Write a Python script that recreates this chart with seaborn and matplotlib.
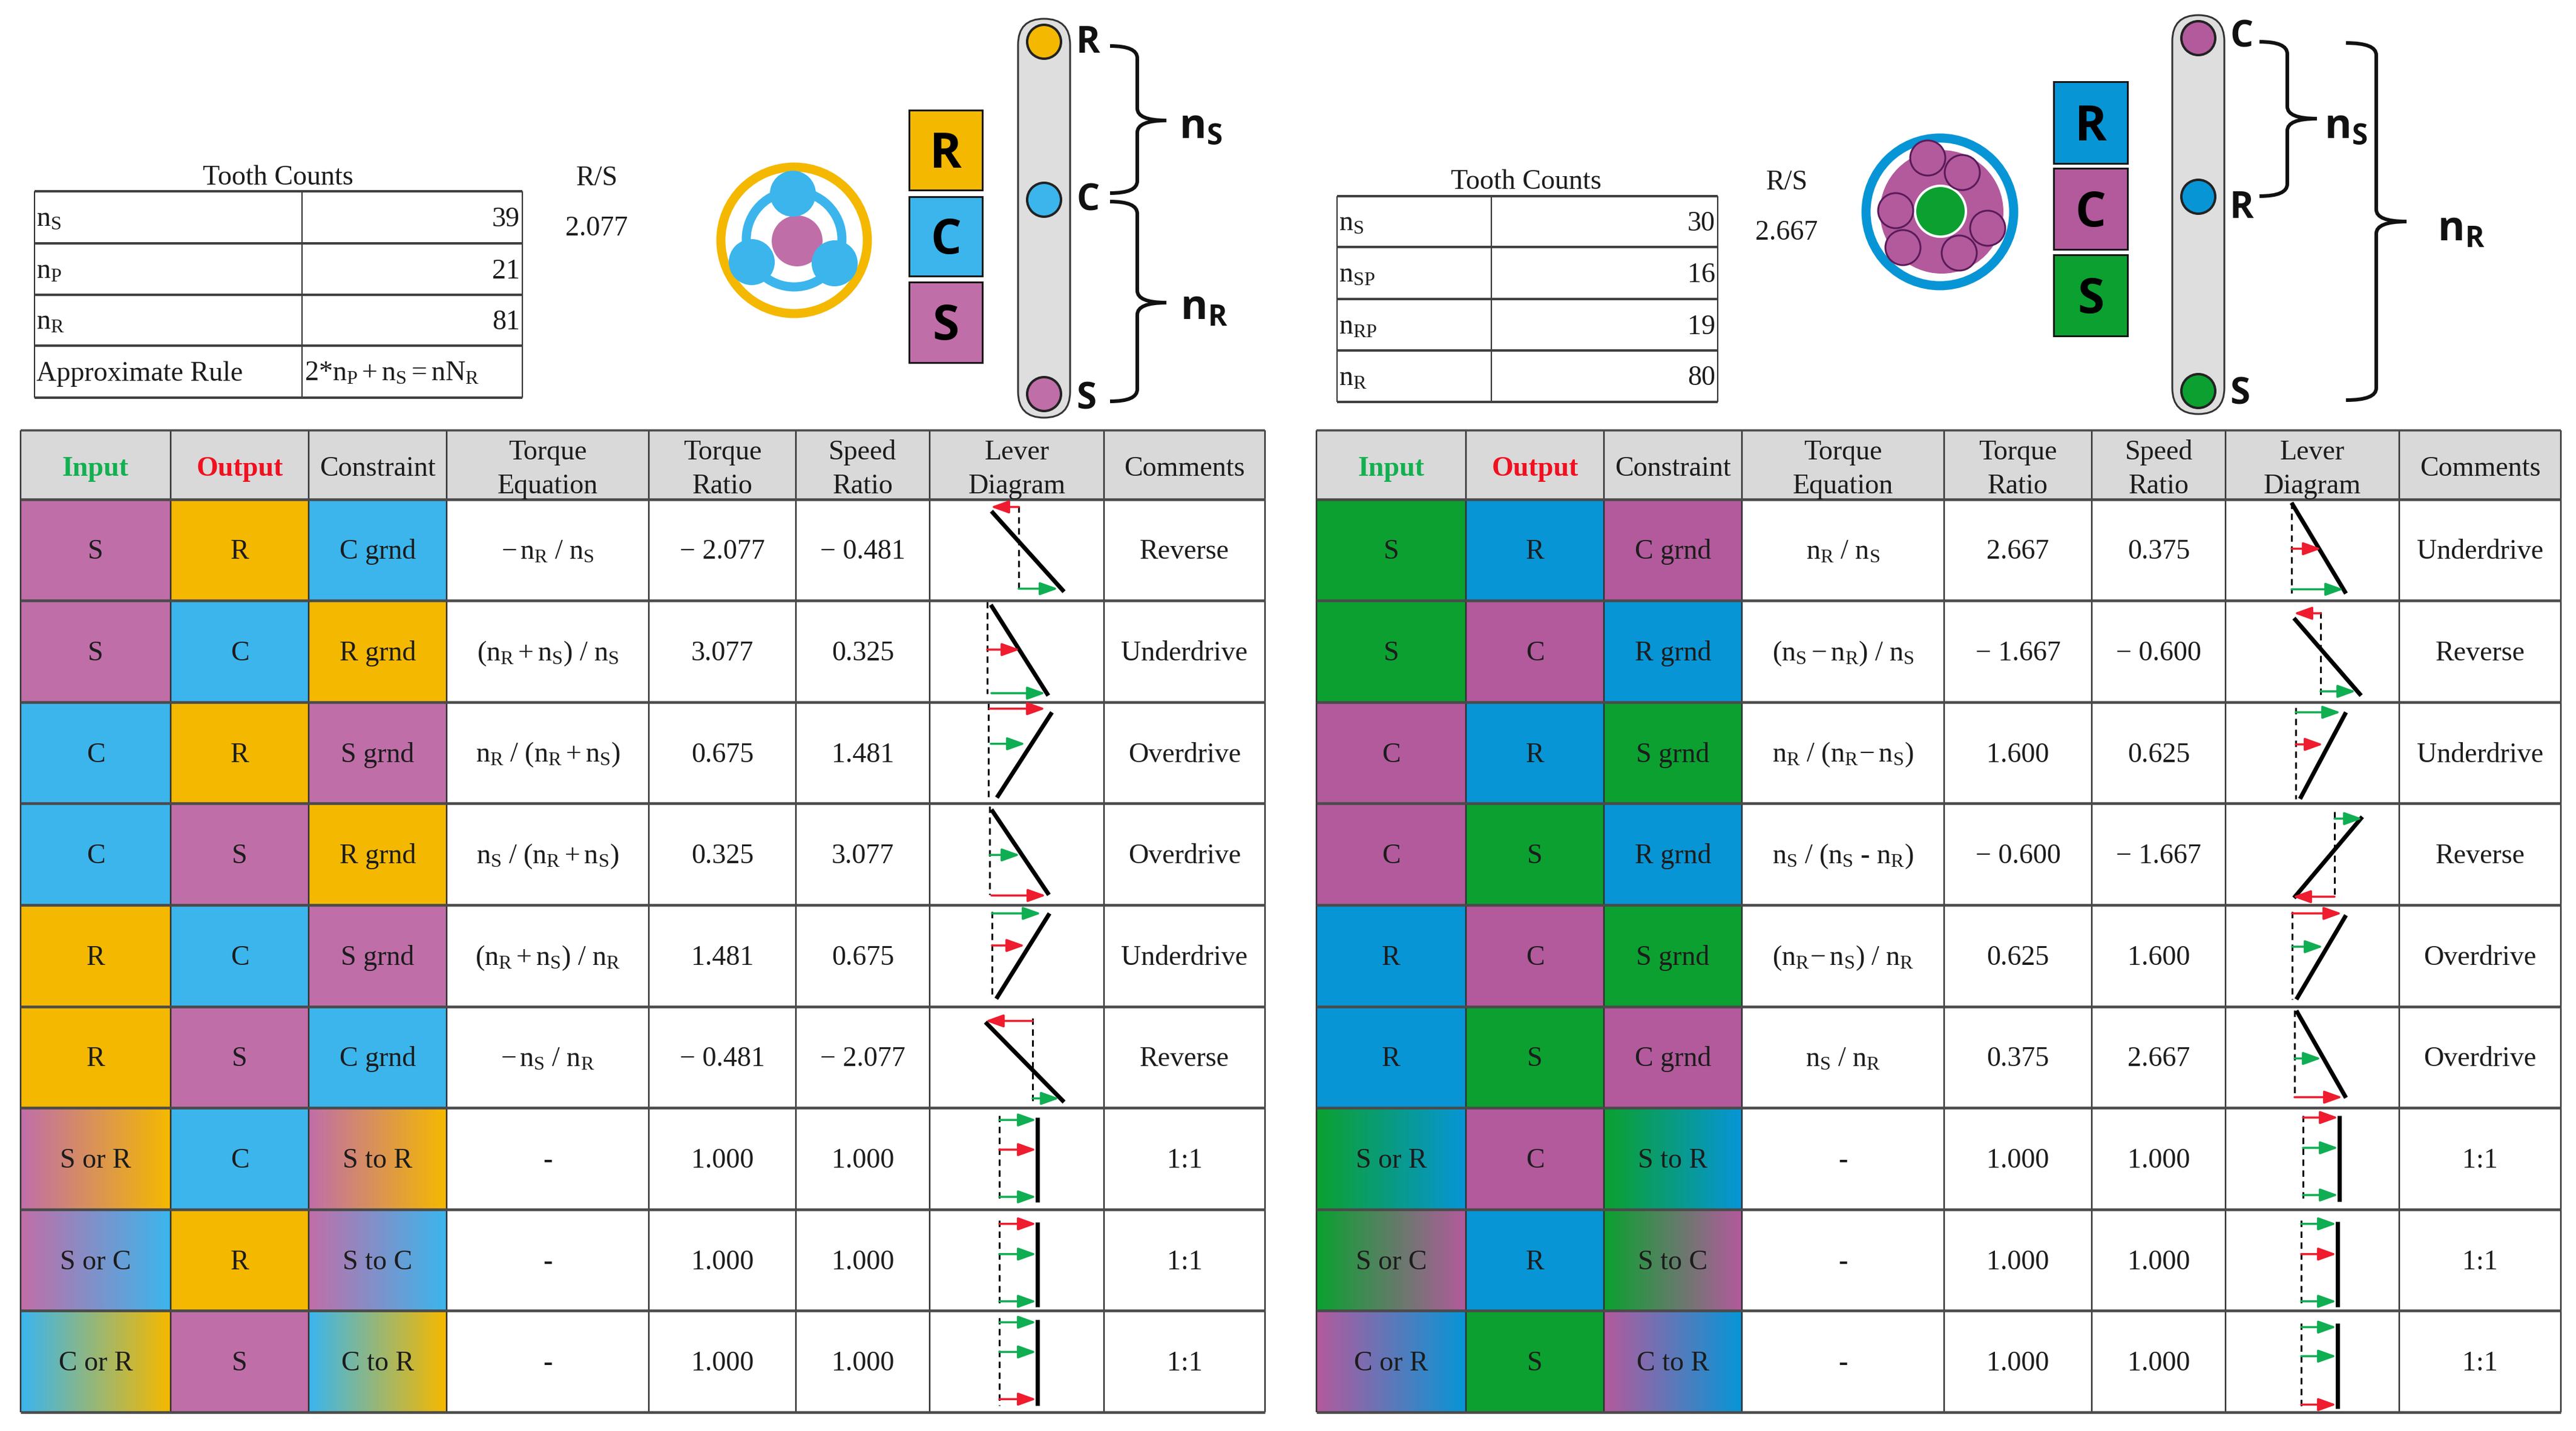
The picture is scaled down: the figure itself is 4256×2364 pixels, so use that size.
import numpy as np
import matplotlib
matplotlib.use("Agg")
import matplotlib.pyplot as plt
import seaborn as sns
from matplotlib.colors import LinearSegmentedColormap
from matplotlib.patches import Circle, PathPatch, FancyBboxPatch, Rectangle
from matplotlib.path import Path

sns.set_theme(style="white")
plt.rcParams["font.family"] = ["Liberation Serif", "DejaVu Sans"]
plt.rcParams["mathtext.fontset"] = "custom"
plt.rcParams["mathtext.rm"] = "Liberation Serif"
plt.rcParams["mathtext.it"] = "Liberation Serif:italic"
plt.rcParams["mathtext.sf"] = "Open Sans:bold"
plt.rcParams["mathtext.fallback"] = "stix"

# ---------------------------------------------------------------------------
# data
# ---------------------------------------------------------------------------
HEADERS = ["Input", "Output", "Constraint", "Torque\nEquation", "Torque\nRatio",
           "Speed\nRatio", "Lever\nDiagram", "Comments"]
INPUT_LABELS = ["S", "S", "C", "C", "R", "R", "S or R", "S or C", "C or R"]
OUTPUT_LABELS = ["R", "C", "R", "S", "C", "S", "C", "R", "S"]
CONSTRAINT_LABELS = ["C grnd", "R grnd", "S grnd", "R grnd", "S grnd", "C grnd",
                     "S to R", "S to C", "C to R"]
INPUT_CODES = ["S", "S", "C", "C", "R", "R", "SR", "SC", "CR"]
OUTPUT_CODES = OUTPUT_LABELS
CONSTRAINT_CODES = ["C", "R", "S", "R", "S", "C", "SR", "SC", "CR"]

L_EQUATIONS = [r"$\mathrm{-\,n_R\ /\ n_S}$", r"$\mathrm{(n_R + n_S)\ /\ n_S}$",
               r"$\mathrm{n_R\ /\ (n_R + n_S)}$", r"$\mathrm{n_S\ /\ (n_R + n_S)}$",
               r"$\mathrm{(n_R + n_S)\ /\ n_R}$", r"$\mathrm{-\,n_S\ /\ n_R}$",
               "-", "-", "-"]
L_TORQUE = ["\u2212 2.077", "3.077", "0.675", "0.325", "1.481", "\u2212 0.481",
            "1.000", "1.000", "1.000"]
L_SPEED = ["\u2212 0.481", "0.325", "1.481", "3.077", "0.675", "\u2212 2.077",
           "1.000", "1.000", "1.000"]
L_COMMENTS = ["Reverse", "Underdrive", "Overdrive", "Overdrive", "Underdrive", "Reverse",
              "1:1", "1:1", "1:1"]
L_TOOTH_NAMES = [r"$\mathrm{n_S}$", r"$\mathrm{n_P}$", r"$\mathrm{n_R}$", "Approximate Rule"]
L_TOOTH_VALUES = ["39", "21", "81", r"$\mathrm{2{*}n_P + n_S = nN_R}$"]
L_RATIO = "2.077"

R_EQUATIONS = [r"$\mathrm{n_R\ /\ n_S}$", r"$\mathrm{(n_S - n_R)\ /\ n_S}$",
               r"$\mathrm{n_R\ /\ (n_R\!-n_S)}$", r"$\mathrm{n_S\ /\ (n_S\ \text{-}\ n_R)}$",
               r"$\mathrm{(n_R\!-n_S)\ /\ n_R}$", r"$\mathrm{n_S\ /\ n_R}$",
               "-", "-", "-"]
R_TORQUE = ["2.667", "\u2212 1.667", "1.600", "\u2212 0.600", "0.625", "0.375",
            "1.000", "1.000", "1.000"]
R_SPEED = ["0.375", "\u2212 0.600", "0.625", "\u2212 1.667", "1.600", "2.667",
           "1.000", "1.000", "1.000"]
R_COMMENTS = ["Underdrive", "Reverse", "Underdrive", "Reverse", "Overdrive", "Overdrive",
              "1:1", "1:1", "1:1"]
R_TOOTH_NAMES = [r"$\mathrm{n_S}$", r"$\mathrm{n_{SP}}$", r"$\mathrm{n_{RP}}$", r"$\mathrm{n_R}$"]
R_TOOTH_VALUES = ["30", "16", "19", "80"]
R_RATIO = "2.667"

# lever bars, offsets from the left edge of the lever column and the top of the row
L_LEVER_X0 = [102, 101, 202, 102, 198, 92, 178, 178, 178]
L_LEVER_X1 = [222, 196, 111, 197, 110, 222, 178, 178, 178]
L_LEVER_Y0 = [20, 7, 17, 10, 14, 26, 16, 21, 15]
L_LEVER_Y1 = [153, 157, 158, 151, 155, 158, 156, 161, 157]
L_DASH_X = [147, 95, 97, 99, 103, 170, 115, 115, 115]
L_DASH_Y0 = [11, 2, 2, 5, 11, 19, 13, 18, 12]
L_DASH_Y1 = [147, 154, 160, 151, 155, 158, 156, 159, 157]
L_ARROWS = [[("r", 13, 147, 101), ("g", 148, 147, 212)],
            [("r", 81, 95, 149), ("g", 153, 102, 191)],
            [("r", 11, 99, 191), ("g", 69, 101, 158)],
            [("g", 85, 99, 149), ("r", 152, 102, 192)],
            [("g", 14, 103, 184), ("r", 67, 103, 157)],
            [("r", 24, 170, 92), ("g", 152, 170, 214)],
            [("g", 20, 115, 176), ("r", 69, 115, 176), ("g", 147, 115, 176)],
            [("r", 24, 115, 176), ("g", 74, 115, 176), ("g", 152, 115, 176)],
            [("g", 19, 115, 176), ("g", 68, 115, 176), ("r", 146, 115, 176)]]

R_LEVER_X0 = [109, 113, 199, 113, 199, 117, 188, 185, 185]
R_LEVER_X1 = [199, 224, 123, 226, 117, 199, 188, 185, 185]
R_LEVER_Y0 = [6, 29, 17, 156, 17, 7, 13, 20, 21]
R_LEVER_Y1 = [156, 157, 160, 22, 156, 151, 155, 161, 162]
R_DASH_X = [109, 157, 116, 180, 110, 114, 128, 125, 125]
R_DASH_Y0 = [5, 19, 9, 14, 11, 6, 13, 18, 21]
R_DASH_Y1 = [155, 158, 160, 154, 156, 150, 155, 160, 162]
R_ARROWS = [[("r", 82, 109, 158), ("g", 149, 109, 195)],
            [("r", 21, 157, 113), ("g", 150, 157, 215)],
            [("g", 17, 116, 190), ("r", 70, 116, 161)],
            [("g", 25, 180, 226), ("r", 154, 180, 111)],
            [("r", 14, 110, 192), ("g", 69, 110, 161)],
            [("g", 86, 114, 158), ("r", 150, 114, 193)],
            [("r", 16, 128, 186), ("g", 66, 128, 186), ("g", 144, 128, 186)],
            [("g", 24, 125, 183), ("r", 74, 125, 183), ("g", 152, 125, 183)],
            [("g", 27, 125, 183), ("g", 75, 125, 183), ("r", 155, 125, 183)]]

# gear colours
L_COLORS = {"R": "#F4B800", "C": "#3BB5EC", "S": "#C06EA8"}
R_COLORS = {"R": "#0795D6", "C": "#B25A9C", "S": "#0BA030"}

ARROW_COLORS = {"r": "#EE1C2E", "g": "#10AE52"}
TEXT_COLOR = "#1C1C1C"
HEADER_FILL = "#D9D9D9"

# ---------------------------------------------------------------------------
# layout, in pixels of the 4256x2364 figure
# ---------------------------------------------------------------------------
W, H = 4256, 2364
PT = 72 / 100  # one pixel in points at dpi 100
FONT = 46 * PT

L_COLS = [34, 282, 510, 738, 1072, 1315, 1536, 1824, 2090]
R_COLS = [2175, 2422, 2650, 2878, 3212, 3456, 3677, 3964, 4231]
TOP_Y = 711
ROWS = np.linspace(824.5, 2333, 10)

fig = plt.figure(figsize=(W / 100, H / 100), dpi=100, facecolor="white")
ax = fig.add_axes([0, 0, 1, 1], zorder=2)
ax.patch.set_alpha(0)
ax.set_autoscale_on(False)
ax.set_xlim(0, W)
ax.set_ylim(H, 0)
ax.axis("off")


def cell_values(code, n):
    # position along the S > R > C > S colormap
    stops = {"S": 0, "R": 1, "C": 2, "SR": (0, 1), "SC": (3, 2), "CR": (2, 1)}
    v = stops[code]
    return np.full(n, float(v)) if np.isscalar(v) else np.linspace(v[0], v[1], n)


def color_heatmap(cols, colors):
    # input, output and constraint columns as one heatmap, 4 px per sample
    widths = [round((cols[i + 1] - cols[i]) / 4) for i in range(3)]
    mat = []
    for i in range(9):
        mat.append(np.concatenate([cell_values(INPUT_CODES[i], widths[0]),
                                   cell_values(OUTPUT_CODES[i], widths[1]),
                                   cell_values(CONSTRAINT_CODES[i], widths[2])]))
    cmap = LinearSegmentedColormap.from_list(
        "gears", [colors["S"], colors["R"], colors["C"], colors["S"]], N=900)
    hax = fig.add_axes([cols[0] / W, 1 - ROWS[-1] / H,
                        (cols[3] - cols[0]) / W, (ROWS[-1] - ROWS[0]) / H], zorder=1)
    sns.heatmap(np.array(mat), ax=hax, cmap=cmap, vmin=0, vmax=3, cbar=False,
                xticklabels=False, yticklabels=False)


def put(x, y, s, size=FONT, ha="center", **kw):
    kw.setdefault("color", TEXT_COLOR)
    ax.text(x, y, s, fontsize=size, ha=ha, va="baseline", **kw)


def brace(x0, xm, xtip, y0, ytip, y1, r=20):
    verts = [(x0, y0), (xm, y0), (xm, y0 + r), (xm, ytip - r), (xm, ytip), (xtip, ytip),
             (xm, ytip), (xm, ytip + r), (xm, y1 - r), (xm, y1), (x0, y1)]
    codes = [Path.MOVETO, Path.CURVE3, Path.CURVE3, Path.LINETO, Path.CURVE3, Path.CURVE3,
             Path.CURVE3, Path.CURVE3, Path.LINETO, Path.CURVE3, Path.CURVE3]
    ax.add_patch(PathPatch(Path(verts, codes), fc="none", ec="#111111", lw=6 * PT))


def draw_table(cols, colors, equations, torque, speed, comments,
               lever_x0, lever_x1, lever_y0, lever_y1, dash_x, dash_y0, dash_y1, arrows):
    color_heatmap(cols, colors)
    ax.add_patch(Rectangle((cols[0], TOP_Y), cols[-1] - cols[0], ROWS[0] - TOP_Y,
                           fc=HEADER_FILL, ec="none"))

    for i, head in enumerate(HEADERS):
        cx = (cols[i] + cols[i + 1]) / 2
        style = {}
        if head == "Input":
            style = dict(color="#12B050", fontweight="bold")
        elif head == "Output":
            style = dict(color="#F01020", fontweight="bold")
        lines = head.split("\n")
        if len(lines) == 1:
            put(cx, 786, lines[0], **style)
        else:
            put(cx, 759, lines[0])
            put(cx, 815, lines[1])

    columns = [INPUT_LABELS, OUTPUT_LABELS, CONSTRAINT_LABELS, equations, torque, speed,
               None, comments]
    for r in range(9):
        base = (ROWS[r] + ROWS[r + 1]) / 2 + 15
        for c, labels in enumerate(columns):
            if labels is not None:
                put((cols[c] + cols[c + 1]) / 2, base, labels[r])

        # lever bar, dashed reference and arrows of this row
        left, top = cols[6], ROWS[r]
        sns.lineplot(x=[left + lever_x0[r], left + lever_x1[r]],
                     y=[top + lever_y0[r], top + lever_y1[r]],
                     ax=ax, color="black", lw=7 * PT, sort=False, estimator=None,
                     solid_capstyle="butt")
        sns.lineplot(x=[left + dash_x[r], left + dash_x[r]],
                     y=[top + dash_y0[r], top + dash_y1[r]],
                     ax=ax, color="black", lw=3 * PT, sort=False, estimator=None,
                     linestyle=(0, (3.5, 2.5)))
        for col, y, x0, x1 in arrows[r]:
            ax.annotate("", xy=(left + x1, top + y), xytext=(left + x0, top + y),
                        arrowprops=dict(arrowstyle="-|>,head_length=1.0,head_width=0.36",
                                        mutation_scale=18, color=ARROW_COLORS[col],
                                        lw=3.5 * PT, shrinkA=0, shrinkB=0))

    # grid
    ax.vlines(cols, TOP_Y, ROWS[-1], color="#303030", lw=2.5 * PT)
    ax.hlines(ROWS, cols[0], cols[-1], color="#4A4A4A", lw=4.5 * PT)
    ax.hlines(TOP_Y, cols[0], cols[-1], color="#4A4A4A", lw=3.5 * PT)


def tooth_table(x, ys, names, values, title_x, title_y, ratio_x, ratio_y, ratio):
    ax.vlines(x, ys[0], ys[-1], color="#303030", lw=2 * PT)
    ax.hlines(ys, x[0], x[-1], color="#404040", lw=4 * PT)
    put(title_x, title_y, "Tooth Counts")
    put(ratio_x, ratio_y, "R/S")
    put(ratio_x, ratio_y + 83, ratio)
    for i in range(4):
        base = (ys[i] + ys[i + 1]) / 2 + 15
        put(x[0] + 3, base, names[i], ha="left")
        is_rule = values[i].startswith("$")
        put(x[1] + 4 if is_rule else x[2] - 4, base, values[i], ha="left" if is_rule else "right")


def block_stack(x0, x1, tops, bottoms, colors):
    for name, y0, y1 in zip("RCS", tops, bottoms):
        ax.add_patch(Rectangle((x0, y0), x1 - x0, y1 - y0, fc=colors[name],
                               ec="#181818", lw=3 * PT))
        ax.text((x0 + x1) / 2, (y0 + y1) / 2 + 29, name, fontsize=80 * PT, ha="center",
                va="baseline", family="Open Sans", fontweight="bold", color="black")


def pill(x0, x1, y0, y1, nodes, colors):
    ax.add_patch(FancyBboxPatch((x0 + 43, y0 + 43), x1 - x0 - 86, y1 - y0 - 86,
                                boxstyle="round,pad=43,rounding_size=43",
                                fc="#DEDEDE", ec="#333333", lw=3 * PT))
    for name, y, ly, lx in nodes:
        ax.add_patch(Circle(((x0 + x1) / 2, y), 28, fc=colors[name], ec="#222222", lw=4 * PT))
        ax.text(lx, ly + 21, name, fontsize=60 * PT, ha="left", va="baseline",
                family="Open Sans", fontweight="bold", color="#111111")


# ---------------------------------------------------------------------------
# left half
# ---------------------------------------------------------------------------
draw_table(L_COLS, L_COLORS, L_EQUATIONS, L_TORQUE, L_SPEED, L_COMMENTS,
           L_LEVER_X0, L_LEVER_X1, L_LEVER_Y0, L_LEVER_Y1, L_DASH_X, L_DASH_Y0, L_DASH_Y1, L_ARROWS)
tooth_table([57, 499, 863], [316, 402, 487, 571, 657], L_TOOTH_NAMES, L_TOOTH_VALUES,
            459, 305, 986, 306, L_RATIO)

# planetary sketch
ax.add_patch(Circle((1312, 397), 121, fc="none", ec=L_COLORS["R"], lw=15 * PT))
ax.add_patch(Circle((1312, 395), 79, fc="none", ec=L_COLORS["C"], lw=15 * PT))
ax.add_patch(Circle((1317, 398), 42, fc=L_COLORS["S"], ec="none"))
for cx, cy in [(1310, 320), (1242, 433), (1379, 435)]:
    ax.add_patch(Circle((cx, cy), 38, fc=L_COLORS["C"], ec="none"))

block_stack(1502, 1623, [182, 325, 466], [314, 456, 599], L_COLORS)
pill(1682, 1768, 31, 690, [("R", 69, 66, 1778), ("C", 330, 326, 1778), ("S", 651, 654, 1778)],
     L_COLORS)
brace(1834, 1879, 1927, 76, 199, 319)
brace(1834, 1879, 1927, 333, 500, 663)
ax.text(1948, 228, r"$\mathsf{n_S}$", fontsize=68 * PT, ha="left", va="baseline", color="#111111")
ax.text(1950, 528, r"$\mathsf{n_R}$", fontsize=68 * PT, ha="left", va="baseline", color="#111111")

# ---------------------------------------------------------------------------
# right half
# ---------------------------------------------------------------------------
draw_table(R_COLS, R_COLORS, R_EQUATIONS, R_TORQUE, R_SPEED, R_COMMENTS,
           R_LEVER_X0, R_LEVER_X1, R_LEVER_Y0, R_LEVER_Y1, R_DASH_X, R_DASH_Y0, R_DASH_Y1, R_ARROWS)
tooth_table([2209, 2464, 2838], [324, 408, 494, 579, 664], R_TOOTH_NAMES, R_TOOTH_VALUES,
            2521, 312, 2952, 313, R_RATIO)

ax.add_patch(Circle((3205, 350), 122, fc="none", ec=R_COLORS["R"], lw=15 * PT))
ax.add_patch(Circle((3208, 350), 102, fc=R_COLORS["C"], ec="none"))
ax.add_patch(Circle((3206, 349), 42, fc=R_COLORS["S"], ec="white", lw=4 * PT))
for cx, cy in [(3185, 261), (3242, 285), (3132, 348), (3284, 377), (3144, 409), (3237, 418)]:
    ax.add_patch(Circle((cx, cy), 29, fc=R_COLORS["C"], ec="#5A1A5A", lw=3 * PT))

block_stack(3393, 3515, [135, 278, 421], [270, 412, 555], R_COLORS)
pill(3589, 3675, 25, 684, [("C", 63, 57, 3684), ("R", 325, 339, 3684), ("S", 646, 647, 3684)],
     R_COLORS)
brace(3733, 3779, 3828, 69, 196, 324)
brace(3876, 3926, 3976, 71, 366, 661)
ax.text(3840, 228, r"$\mathsf{n_S}$", fontsize=68 * PT, ha="left", va="baseline", color="#111111")
ax.text(4027, 398, r"$\mathsf{n_R}$", fontsize=68 * PT, ha="left", va="baseline", color="#111111")

ax.set_xlim(0, W)
ax.set_ylim(H, 0)
ax.axis("off")
fig.savefig("out.png", dpi=100, facecolor="white")
